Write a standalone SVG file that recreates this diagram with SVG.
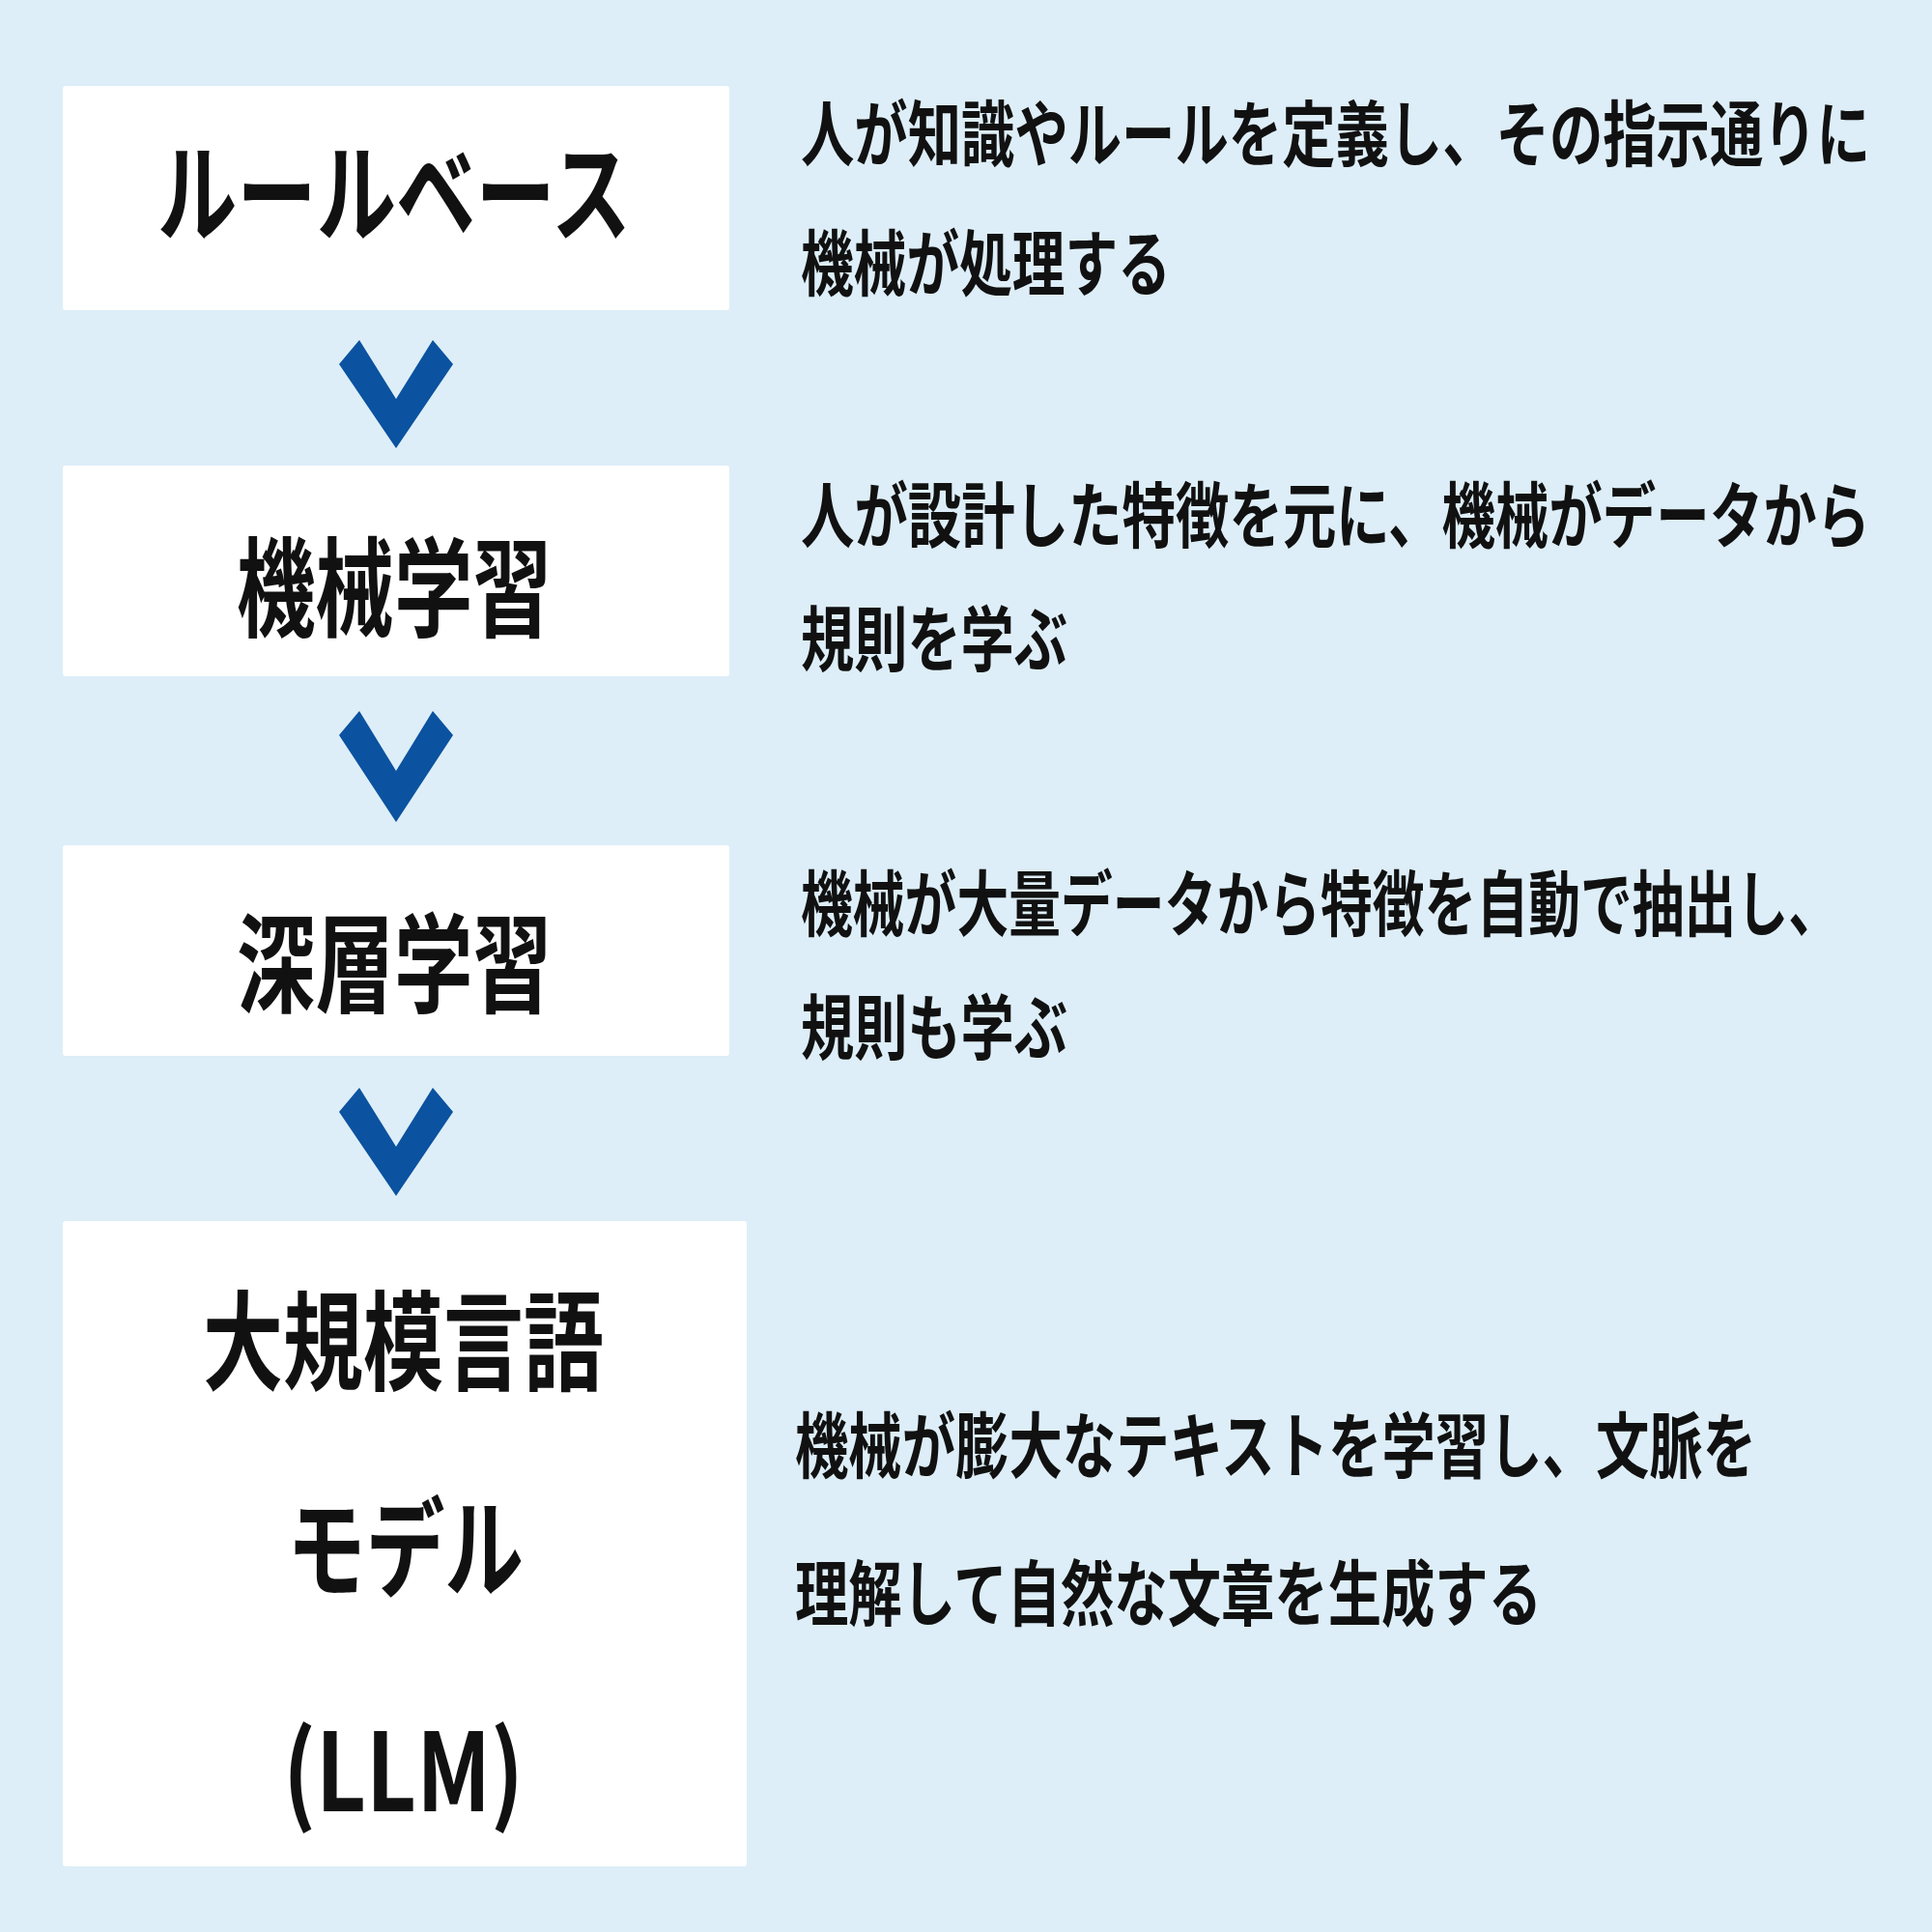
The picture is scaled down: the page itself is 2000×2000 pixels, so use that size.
<svg xmlns="http://www.w3.org/2000/svg" width="2000" height="2000" viewBox="0 0 2000 2000">
<style>
.box{fill:#ffffff}
.t{font-family:"Noto Sans CJK JP","Liberation Sans",sans-serif;font-weight:bold;fill:#111;font-size:112px}
.d{font-family:"Noto Sans CJK JP","Liberation Sans",sans-serif;font-weight:bold;fill:#111;font-size:74px}
.chev{fill:#0b52a0}
</style>
<rect width="2000" height="2000" fill="#ddeef8"/>
<g id="n1"><rect class="box" x="65" y="89" width="690" height="232" rx="3"/>
<text class="t" x="163" y="242" textLength="490" lengthAdjust="spacingAndGlyphs">ルールベース</text></g>
<g id="n2"><rect class="box" x="65" y="482" width="690" height="218" rx="3"/>
<text class="t" x="245" y="651" textLength="326" lengthAdjust="spacingAndGlyphs">機械学習</text></g>
<g id="n3"><rect class="box" x="65" y="875" width="690" height="218" rx="3"/>
<text class="t" x="245" y="1040" textLength="326" lengthAdjust="spacingAndGlyphs">深層学習</text></g>
<g id="n4"><rect class="box" x="65" y="1264" width="708" height="668" rx="3"/>
<text class="t" x="210" y="1431" textLength="415" lengthAdjust="spacingAndGlyphs">大規模言語</text>
<text class="t" x="297" y="1645" textLength="245" lengthAdjust="spacingAndGlyphs">モデル</text>
<text class="t" x="293" y="1875" textLength="249" lengthAdjust="spacingAndGlyphs">(LLM)</text></g>
<g id="desc">
<text class="d" x="829" y="166" textLength="1107" lengthAdjust="spacingAndGlyphs">人が知識やルールを定義し、その指示通りに</text>
<text class="d" x="829" y="300" textLength="383" lengthAdjust="spacingAndGlyphs">機械が処理する</text>
<text class="d" x="829" y="561" textLength="1107" lengthAdjust="spacingAndGlyphs">人が設計した特徴を元に、機械がデータから</text>
<text class="d" x="829" y="689" textLength="276" lengthAdjust="spacingAndGlyphs">規則を学ぶ</text>
<text class="d" x="829" y="963" textLength="1076" lengthAdjust="spacingAndGlyphs">機械が大量データから特徴を自動で抽出し、</text>
<text class="d" x="829" y="1091" textLength="276" lengthAdjust="spacingAndGlyphs">規則も学ぶ</text>
<text class="d" x="823" y="1524" textLength="995" lengthAdjust="spacingAndGlyphs">機械が膨大なテキストを学習し、文脈を</text>
<text class="d" x="823" y="1677" textLength="773" lengthAdjust="spacingAndGlyphs">理解して自然な文章を生成する</text>
</g>
<g id="connectors">
<polygon class="chev" points="351,377 372,352 410,413 448,352 469,377 410,464"/>
<polygon class="chev" points="351,761 372,736 410,798 448,736 469,761 410,851"/>
<polygon class="chev" points="351,1151 372,1126 410,1187 448,1126 469,1151 410,1238"/>
</g>
</svg>
